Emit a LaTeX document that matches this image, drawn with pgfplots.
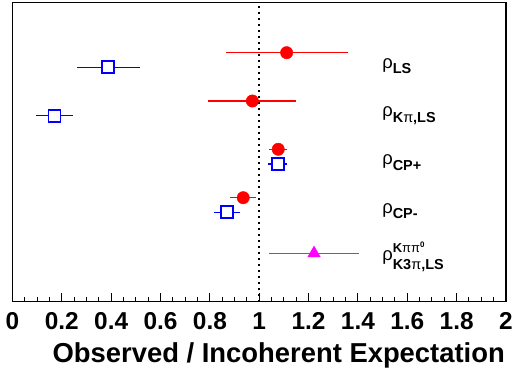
\documentclass[border=0pt]{standalone}
\usepackage{fontspec}
\setmainfont{Liberation Sans}
\usepackage{pgfplots}
\usepackage{pgfplotstable}
\pgfplotsset{compat=1.18}

\definecolor{rootred}{rgb}{1,0,0}
\definecolor{rootblue}{rgb}{0,0,1}
\definecolor{rootmag}{rgb}{1,0,1}

\pgfplotstableread{
x y ep em
1.111 249.0 0.250 0.246
0.972 200.7 0.178 0.178
1.077 152.4 0.037 0.036
0.935 104.0 0.051 0.052
}\redtab
\pgfplotstableread{
x y ep em
0.388 234.4 0.130 0.128
0.170 186.0 0.077 0.073
1.075 137.7 0.039 0.041
0.869 89.4 0.054 0.054
}\bluetab
\pgfplotstableread{
x y ep em
1.222 48.4 0.182 0.182
}\magtab

\newcommand{\rlab}[1]{{\fontsize{18.5}{18.5}\selectfont ρ}\raisebox{-5.5bp}{\fontsize{14.5}{14.5}\selectfont\bfseries #1}}

\begin{document}
\begin{tikzpicture}
\begin{axis}[
  scale only axis, width=493.5bp, height=299bp,
  xmin=0, xmax=2, ymin=0, ymax=299,
  axis line style={line width=1.2bp},
  ytick=\empty,
  xtick={0,0.2,0.4,0.6,0.8,1,1.2,1.4,1.6,1.8,2},
  xticklabels={0,0.2,0.4,0.6,0.8,1,1.2,1.4,1.6,1.8,2},
  minor x tick num=3,
  xtick pos=bottom, xtick align=inside,
  major tick length=9bp, minor tick length=4.5bp,
  tick style={line width=1bp, black},
  /pgf/number format/assume math mode=true,
  xticklabel style={font=\bfseries\fontsize{24.5}{24.5}\selectfont, anchor=base, yshift=-27.6bp},
  xlabel={Observed / Incoherent Expectation},
  xlabel style={font=\bfseries\fontsize{27.5}{27.5}\selectfont, at={(axis description cs:1,0)}, anchor=base east, yshift=-60.6bp, xshift=-1bp, inner sep=0pt},
  clip=false,
]
\addplot[black, line width=2bp, dash pattern=on 2bp off 4bp] coordinates {(1,0) (1,299)};

\addplot[only marks, mark=*, mark size=6.2bp, color=rootred, mark options={fill=rootred, draw=rootred},
  error bars/.cd, x dir=both, x explicit, error mark=none,
  error bar style={line width=1.3bp, rootred}]
  table[x=x, y=y, x error plus=ep, x error minus=em] {\redtab};

\addplot[only marks, mark=square*, mark size=6bp, color=rootblue, mark options={fill=white, draw=rootblue, line width=1.8bp},
  error bars/.cd, x dir=both, x explicit, error mark=none,
  error bar style={line width=1.3bp, rootblue}]
  table[x=x, y=y, x error plus=ep, x error minus=em] {\bluetab};

\addplot[only marks, mark=triangle*, mark size=7.2bp, color=rootmag, mark options={fill=rootmag, draw=rootmag},
  error bars/.cd, x dir=both, x explicit, error mark=none,
  error bar style={line width=1.6bp, rootmag}]
  table[x=x, y=y, x error plus=ep, x error minus=em] {\magtab};

\node[anchor=base west, inner sep=0pt] at (axis cs:1.498,233.4) {\rlab{LS}};
\node[anchor=base west, inner sep=0pt] at (axis cs:1.498,185.0) {\rlab{K\textmd{π},LS}};
\node[anchor=base west, inner sep=0pt] at (axis cs:1.498,136.7) {\rlab{CP+}};
\node[anchor=base west, inner sep=0pt] at (axis cs:1.498,88.4) {\rlab{CP-}};
\node[anchor=base west, inner sep=0pt] at (axis cs:1.498,41.7) {{\fontsize{18.5}{18.5}\selectfont ρ}\rlap{\raisebox{7.3bp}{\fontsize{13}{13}\selectfont\bfseries K\textmd{ππ}\raisebox{5bp}{\fontsize{8}{8}\selectfont 0}}}\raisebox{-9.3bp}{\fontsize{14.5}{14.5}\selectfont\bfseries K3\textmd{π},LS}};
\end{axis}
\pgfresetboundingbox
\path[use as bounding box] (-12.5bp,-75.3bp) rectangle (501.5bp,301.7bp);
\end{tikzpicture}
\end{document}
